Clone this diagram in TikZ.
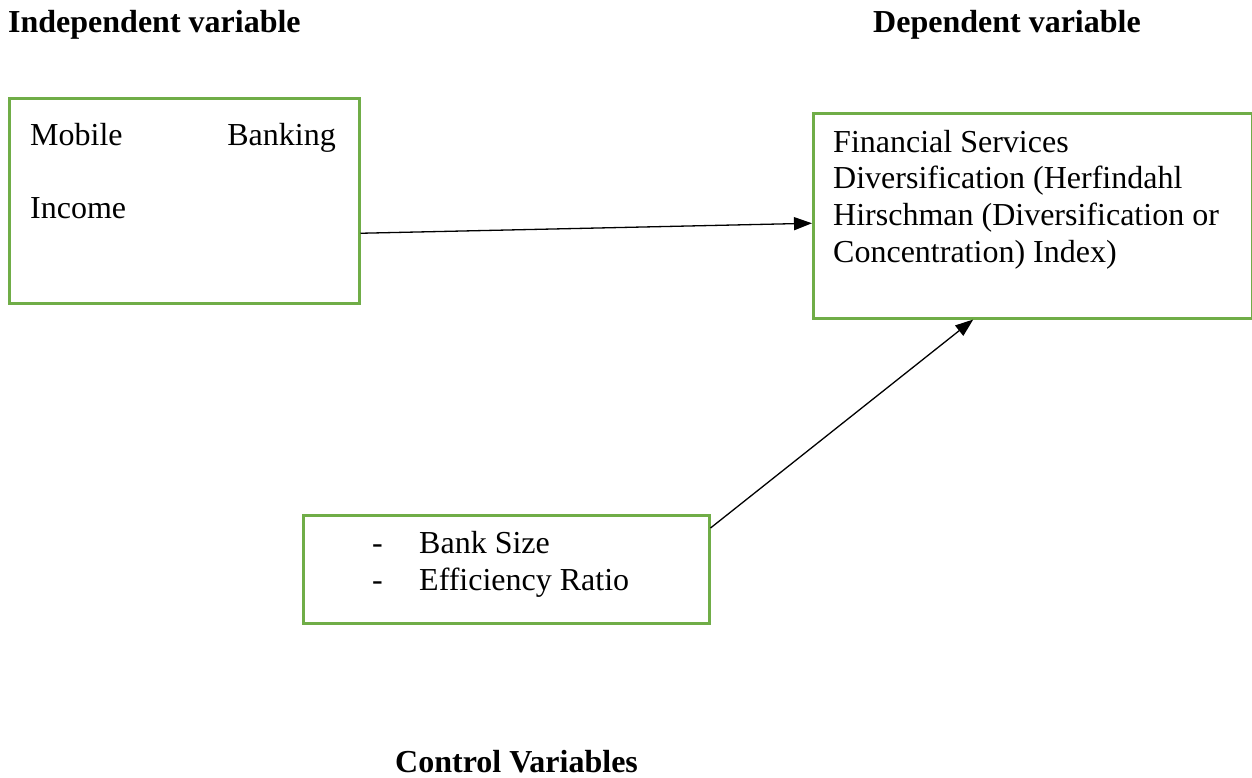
\documentclass[tikz,border=0pt]{standalone}
\usepackage{fontspec}
\setmainfont{Liberation Serif}
\usetikzlibrary{arrows.meta}
\definecolor{boxgreen}{HTML}{70AD47}
\begin{document}
\begin{tikzpicture}[x=1pt,y=-1pt,
  box/.style={draw=boxgreen,line width=2.5pt,anchor=north west,inner sep=0pt},
  txt/.style={anchor=base west,inner sep=0pt,font=\fontsize{32}{37}\selectfont},
  head/.style={anchor=base west,inner sep=0pt,font=\fontsize{32}{37}\selectfont\bfseries},
  conn/.style={draw=black,line width=1.3pt,-{Triangle[length=18pt,width=13pt]}}]
\useasboundingbox (0,0) rectangle (1252,777);
\node[box,minimum width=350pt,minimum height=205pt] (lb) at (8,97) {};
\node[box,minimum width=439pt,minimum height=205pt] (rb) at (812,112) {};
\node[box,minimum width=406pt,minimum height=108pt] (cb) at (302,514) {};
\node[head] (h1) at (8,32) {Independent variable};
\node[head] (h2) at (873,32) {Dependent variable};
\node[head] (h3) at (395,772) {Control Variables};
\node[txt] (t1) at (30,145) {Mobile};
\node[txt,anchor=base east] (t2) at (336,145) {Banking};
\node[txt] (t3) at (30,218) {Income};
\node[txt] (r1) at (833,152) {Financial Services};
\node[txt] (r2) at (833,188) {Diversification (Herfindahl};
\node[txt] (r3) at (833,225) {Hirschman (Diversification or};
\node[txt] (r4) at (833,262) {Concentration) Index)};
\node[txt] (d1) at (372,553) {-};
\node[txt] (c1) at (419,553) {Bank Size};
\node[txt] (d2) at (372,590) {-};
\node[txt] (c2) at (419,590) {Efficiency Ratio};
\draw[conn] ([yshift=-32.5pt]lb.east) -- ([yshift=-7.5pt]rb.west);
\draw[conn] ([yshift=-14pt]cb.north east) -- ([xshift=-59.5pt]rb.south);
\end{tikzpicture}
\end{document}
